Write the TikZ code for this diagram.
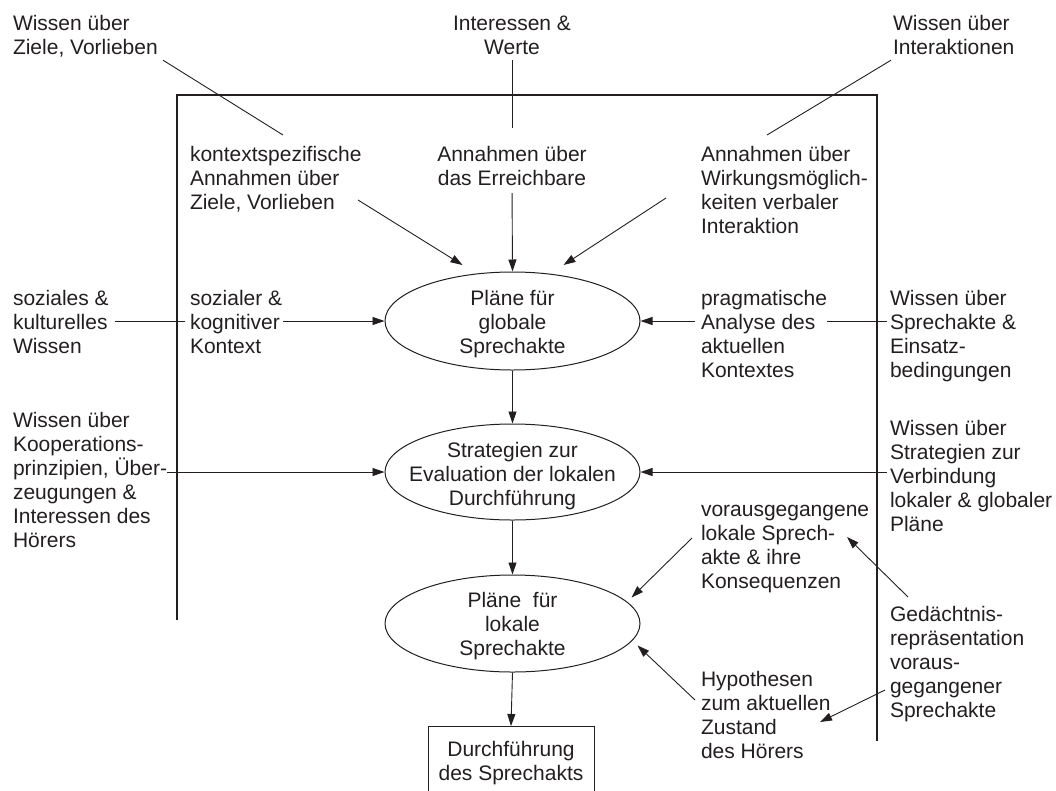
\documentclass[tikz,border=0pt]{standalone}
\usepackage{fontspec}
\setmainfont{Liberation Sans}
\usetikzlibrary{arrows.meta,shapes.geometric,calc}
\definecolor{ink}{RGB}{35,31,32}
\begin{document}
\begin{tikzpicture}[x=1pt,y=-1pt,
  lab/.style={inner sep=0pt,outer sep=0pt,align=left,anchor=north west,font=\fontsize{21}{24}\selectfont,text=ink},
  clab/.style={lab,align=center,anchor=north},
  oval/.style={ellipse,draw=ink,line width=1pt,inner sep=0pt,minimum width=255pt},
  conn/.style={draw=ink,line width=0.9pt},
  arr/.style={conn,-{Triangle[length=12pt,width=8pt]}},
  frameline/.style={draw=ink,line width=2.5pt}]
\useasboundingbox (0,0) rectangle (1056,790);
\clip (0,0) rectangle (1056,790);

% frame
\draw[frameline] (177,620) -- (177,95) -- (877,95) -- (877,741);

% text nodes
\node[lab]  (A) at (13,13.2)  {\strut Wissen über\\Ziele, Vorlieben};
\node[clab] (B) at (512,13.2) {\strut Interessen \&\\Werte};
\node[lab]  (C) at (893,13.2) {\strut Wissen über\\Interaktionen};
\node[lab]  (D) at (190,145)  {\strut kontextspezifische\\Annahmen über\\Ziele, Vorlieben};
\node[clab] (E) at (512,145)  {\strut Annahmen über\\das Erreichbare};
\node[lab]  (F) at (701,145)  {\strut Annahmen über\\Wirkungsmöglich-\\keiten verbaler\\Interaktion};
\node[lab]  (G) at (13,289)   {\strut soziales \&\\kulturelles\\Wissen};
\node[lab]  (H) at (190,289)  {\strut sozialer \&\\kognitiver\\Kontext};
\node[lab]  (I) at (701,289)  {\strut pragmatische\\Analyse des\\aktuellen\\Kontextes};
\node[lab]  (J) at (890,289)  {\strut Wissen über\\Sprechakte \&\\Einsatz-\\bedingungen};
\node[lab]  (K) at (13,411)   {\strut Wissen über\\Kooperations-\\prinzipien, Über-\\zeugungen \&\\Interessen des\\Hörers};
\node[lab]  (L) at (890,419)  {\strut Wissen über\\Strategien zur\\Verbindung\\lokaler \& globaler\\Pläne};
\node[lab]  (M) at (701,500)  {\strut vorausgegangene\\lokale Sprech-\\akte \& ihre\\Konsequenzen};
\node[lab]  (N) at (890,605)  {\strut Gedächtnis-\\repräsentation\\voraus-\\gegangener\\Sprechakte};
\node[lab]  (O) at (701,670)  {\strut Hypothesen\\zum aktuellen\\Zustand\\des Hörers};

% ellipses
\node[oval,minimum height=98pt] (E1) at (512.5,321) {};
\node[oval,minimum height=96pt] (E2) at (512.5,472) {};
\node[oval,minimum height=97pt] (E3) at (512.5,623.5) {};
\node[clab,anchor=center] (E1t) at ($(E1.center)+(0,3)$) {Pläne für\\globale\\Sprechakte};
\node[clab,anchor=center] (E2t) at ($(E2.center)+(0,4)$) {Strategien zur\\Evaluation der lokalen\\Durchführung};
\node[clab,anchor=center] (E3t) at ($(E3.center)+(0,3)$) {Pläne\ \ für\\lokale\\Sprechakte};

% output box
\node[draw=ink,line width=0.9pt,inner sep=0pt,minimum width=166pt,minimum height=74pt,anchor=north,align=center,font=\fontsize{21}{24}\selectfont,text=ink] (P) at (511,726) {Durchführung\\des Sprechakts};

% plain lines from outside knowledge
\draw[conn] ($(A.north west)+(150,47)$) -- ($(D.north west)+(93,-10)$);
\draw[conn,shorten <=6pt,shorten >=17pt] (B.south) -- (E.north);
\draw[conn] ($(C.north west)+(-2,47)$) -- ($(F.north west)+(66,-10)$);
\draw[conn,shorten <=6pt,shorten >=5pt] (G.east |- E1.west) -- (H.west |- E1.west);
\draw[conn,shorten <=3pt] (J.west |- E1.east) -- (I.east |- E1.east);

% arrows into the first ellipse
\draw[arr] ($(D.north west)+(168,55)$) -- ($(E1.center)+(-50,-56)$);
\draw[arr,shorten <=7pt] (E.south) -- (E1.north);
\draw[arr] ($(F.north west)+(-35,53)$) -- ($(E1.center)+(51,-56)$);
\draw[arr,shorten <=1pt] (H.east |- E1.west) -- (E1.west);
\draw[arr,shorten <=6pt] (I.west |- E1.east) -- (E1.east);

% arrows into the second ellipse
\draw[arr] (K.east |- E2.west) -- (E2.west);
\draw[arr,shorten <=3pt] (L.west |- E2.east) -- (E2.east);

% vertical flow
\draw[arr] (E1.south) -- (E2.north);
\draw[arr] (E2.south) -- (E3.north);
\draw[arr] (E3.south) -- (P.north);

% arrows near the third ellipse
\draw[arr] ($(M.north west)+(-9,38)$) -- ($(E3.center)+(119,-26)$);
\draw[arr] ($(O.north west)+(-6,30)$) -- ($(E3.center)+(125,22)$);
\draw[arr] ($(N.north west)+(18,-8)$) -- ($(M.north west)+(146,37)$);
\draw[arr] ($(N.north west)+(-5,85)$) -- ($(O.north west)+(119,52)$);
\end{tikzpicture}
\end{document}
